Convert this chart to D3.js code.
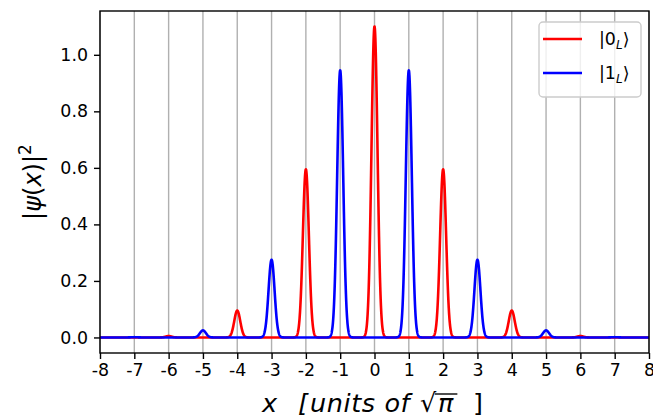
<!DOCTYPE html>
<html>
<head>
<meta charset="utf-8">
<script src="https://cdn.jsdelivr.net/npm/d3@7"></script>
<style>
    body { margin: 0; background: white; }
    text { font-family: "DejaVu Sans", sans-serif; }
</style>
</head>
<body>
<div id="chart"></div>
<script>
// DATA //
// peak centres (units of sqrt(pi)) and peak heights
const zeroPeakX = [-6, -4, -2, 0, 2, 4, 6]
const zeroPeakHeight = [0.005, 0.095, 0.595, 1.10, 0.595, 0.095, 0.005]
const onePeakX = [-7, -5, -3, -1, 1, 3, 5, 7]
const onePeakHeight = [0.001, 0.025, 0.275, 0.945, 0.945, 0.275, 0.025, 0.001]
const peakSigma = 0.088 // width of each peak

const xTickValues = [-8, -7, -6, -5, -4, -3, -2, -1, 0, 1, 2, 3, 4, 5, 6, 7, 8]
const yTickValues = [0.0, 0.2, 0.4, 0.6, 0.8, 1.0]
const xDomain = [-8, 8]
const yDomain = [-0.055, 1.155]

// Set dimensions
let dimensions = {
    width: 653,
    height: 418,
    margin: {
        top: 11,
        right: 4,
        bottom: 65,
        left: 100,
    },
}
dimensions.boundedWidth = dimensions.width - dimensions.margin.left - dimensions.margin.right
dimensions.boundedHeight = dimensions.height - dimensions.margin.top - dimensions.margin.bottom

const tickFont = 17.4
const labelFont = 24

// Scales
const xScale = d3.scaleLinear()
    .domain(xDomain)
    .range([0, dimensions.boundedWidth])

const yScale = d3.scaleLinear()
    .domain(yDomain)
    .range([dimensions.boundedHeight, 0])

// build curve: sum of gaussian peaks at the read positions/heights
function buildCurve(centres, heights) {
    const xs = d3.range(xDomain[0], xDomain[1] + 0.0001, 0.004)
    return xs.map(x => ({
        x: x,
        y: d3.sum(centres, (c, i) => heights[i] * Math.exp(-((x - c) ** 2) / (2 * peakSigma ** 2)))
    }))
}

const zeroCurve = buildCurve(zeroPeakX, zeroPeakHeight)
const oneCurve = buildCurve(onePeakX, onePeakHeight)

const svg = d3.select("#chart")
    .append("svg")
    .attr("width", dimensions.width)
    .attr("height", dimensions.height)

const bounds = svg.append("g")
    .attr("transform", `translate(${dimensions.margin.left}, ${dimensions.margin.top})`)

// grid (x only)
bounds.append("g")
    .selectAll("line")
    .data(xTickValues)
    .join("line")
    .attr("x1", d => xScale(d))
    .attr("x2", d => xScale(d))
    .attr("y1", 0)
    .attr("y2", dimensions.boundedHeight)
    .attr("stroke", "#b0b0b0")
    .attr("stroke-width", 1.4)

// lines
const lineGenerator = d3.line()
    .x(d => xScale(d.x))
    .y(d => yScale(d.y))

const plotArea = bounds.append("g")
plotArea.append("path")
    .datum(zeroCurve)
    .attr("d", lineGenerator)
    .attr("fill", "none")
    .attr("stroke", "#ff0000")
    .attr("stroke-width", 2.6)
    .attr("stroke-linejoin", "round")

plotArea.append("path")
    .datum(oneCurve)
    .attr("d", lineGenerator)
    .attr("fill", "none")
    .attr("stroke", "#0000ff")
    .attr("stroke-width", 2.6)
    .attr("stroke-linejoin", "round")

// axes
const xAxisGenerator = d3.axisBottom(xScale)
    .tickValues(xTickValues)
    .tickFormat(d => String(d))
    .tickSize(6)
    .tickPadding(5)

const yAxisGenerator = d3.axisLeft(yScale)
    .tickValues(yTickValues)
    .tickFormat(d3.format(".1f"))
    .tickSize(6)
    .tickPadding(6)

const xAxis = bounds.append("g")
    .attr("transform", `translate(0, ${dimensions.boundedHeight})`)
    .call(xAxisGenerator)

const yAxis = bounds.append("g")
    .call(yAxisGenerator)

;[xAxis, yAxis].forEach(ax => {
    ax.select(".domain").remove()
    ax.selectAll(".tick line").attr("stroke", "#000").attr("stroke-width", 1.4)
    ax.selectAll(".tick text")
        .attr("fill", "#000")
        .style("font-size", tickFont + "px")
        .style("font-family", "DejaVu Sans")
})

// spines
bounds.append("rect")
    .attr("x", 0)
    .attr("y", 0)
    .attr("width", dimensions.boundedWidth)
    .attr("height", dimensions.boundedHeight)
    .attr("fill", "none")
    .attr("stroke", "#000")
    .attr("stroke-width", 1.4)

// y label
const yLabel = svg.append("text")
    .attr("transform", `translate(41, ${dimensions.margin.top + dimensions.boundedHeight / 2}) rotate(-90)`)
    .attr("text-anchor", "middle")
    .style("font-size", labelFont + "px")
yLabel.append("tspan").text("|")
yLabel.append("tspan").style("font-style", "italic").text("ψ")
yLabel.append("tspan").text("(")
yLabel.append("tspan").style("font-style", "italic").text("x")
yLabel.append("tspan").text(")|")
yLabel.append("tspan").attr("dy", -10).style("font-size", "17px").text("2")

// x label, pieces placed like the mathtext spacing
const xLabel = svg.append("text")
    .attr("y", 412)
    .style("font-size", "25.5px")
xLabel.append("tspan").attr("x", 262).style("font-style", "italic").text("x")
xLabel.append("tspan").attr("x", 298).style("font-style", "italic").text("[")
xLabel.append("tspan").attr("x", 310).style("font-style", "italic")
    .style("letter-spacing", "0.6px").text("units\u00a0of")
xLabel.append("tspan").attr("x", 420).text("√")
xLabel.append("tspan").attr("x", 438).style("font-style", "italic").text("π")
xLabel.append("tspan").attr("x", 473).text("]")

// overline of the square root
const fullText = xLabel.text()
const piIndex = fullText.indexOf("π")
const rootIndex = fullText.indexOf("√")
const piBox = xLabel.node().getExtentOfChar(piIndex)
const rootBox = xLabel.node().getExtentOfChar(rootIndex)
svg.append("line")
    .attr("x1", rootBox.x + rootBox.width - 1.5)
    .attr("x2", piBox.x + piBox.width + 4)
    .attr("y1", 394)
    .attr("y2", 394)
    .attr("stroke", "#222")
    .attr("stroke-width", 1.6)

// legend
const legendItems = [
    { label: "0", color: "#ff0000" },
    { label: "1", color: "#0000ff" },
]
const legend = svg.append("g")
legend.append("rect")
    .attr("x", 539)
    .attr("y", 22)
    .attr("width", 102)
    .attr("height", 75)
    .attr("rx", 4)
    .attr("fill", "white")
    .attr("fill-opacity", 0.8)
    .attr("stroke", "#cccccc")
    .attr("stroke-width", 1.4)

const legendRows = legend.selectAll("g.row")
    .data(legendItems)
    .join("g")
    .attr("class", "row")
    .attr("transform", (d, i) => `translate(0, ${39 + i * 34})`)

legendRows.append("line")
    .attr("x1", 543)
    .attr("x2", 582)
    .attr("stroke", d => d.color)
    .attr("stroke-width", 2.6)

const legendText = legendRows.append("text")
    .attr("x", 599)
    .attr("y", 6)
    .style("font-size", tickFont + "px")
legendText.append("tspan").text(d => "|" + d.label)
legendText.append("tspan").attr("dy", 4).style("font-size", "12px").style("font-style", "italic").text("L")
legendText.append("tspan").attr("dy", -4).text("⟩")
</script>
</body>
</html>
